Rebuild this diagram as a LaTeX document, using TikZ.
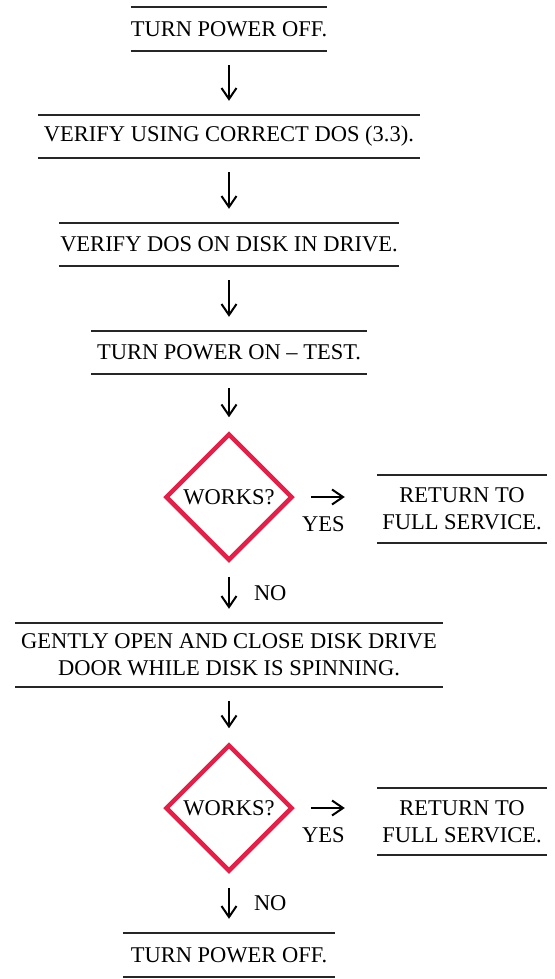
\documentclass[tikz,border=0pt]{standalone}
\usepackage{fontspec}
\setmainfont{Liberation Serif}
\usetikzlibrary{shapes.geometric,arrows.meta}
\definecolor{testred}{RGB}{224,34,74}

\begin{document}
\begin{tikzpicture}[
  x=1pt, y=-1pt,
  stepbox/.style={
    rectangle, inner sep=0pt, align=center,
    font=\fontsize{22.5}{27}\selectfont
  },
  rule/.style={line width=1.6pt, draw=black!85},
  test/.style={
    diamond, draw=testred, line width=4.5pt, inner sep=0pt,
    minimum width=127pt, minimum height=127pt,
    font=\fontsize{22.5}{27}\selectfont
  },
  arr/.style={-{Straight Barb[length=11pt,width=15pt]}, line width=2pt,
    shorten <=14pt, shorten >=14pt},
  lbl/.style={font=\fontsize{22.5}{27}\selectfont, inner sep=0pt},
]
\useasboundingbox (0,0) rectangle (554,979);

\def\cx{229}

\node[stepbox, minimum width=190pt, minimum height=44pt] (off)  at (\cx, 29)
  {TURN POWER OFF.};
\node[stepbox, minimum width=382pt, minimum height=43pt] (dos)  at (\cx, 136.5)
  {VERIFY USING CORRECT DOS (3.3).};
\node[stepbox, minimum width=340pt, minimum height=43pt] (disk) at (\cx, 244.5)
  {VERIFY DOS ON DISK IN DRIVE.};
\node[stepbox, minimum width=275pt, minimum height=43pt] (on)   at (\cx, 352.5)
  {TURN POWER ON – TEST.};
\node[test] (works1) at (\cx, 497) {WORKS?};
\node[stepbox, minimum width=170pt, minimum height=68pt] (ret1) at (462, 509)
  {RETURN TO\\FULL SERVICE.};
\node[stepbox, minimum width=427pt, minimum height=64pt] (door) at (\cx, 655)
  {GENTLY OPEN AND CLOSE DISK DRIVE\\DOOR WHILE DISK IS SPINNING.};
\node[test] (works2) at (\cx, 808) {WORKS?};
\node[stepbox, minimum width=170pt, minimum height=67pt] (ret2) at (462, 821.5)
  {RETURN TO\\FULL SERVICE.};
\node[stepbox, minimum width=212pt, minimum height=44pt] (off2) at (\cx, 955)
  {TURN POWER OFF.};

\foreach \n in {off,dos,disk,on,ret1,door,ret2,off2}
  \draw[rule] (\n.north west) -- (\n.north east)
              (\n.south west) -- (\n.south east);

\draw[arr] (off)  -- (dos);
\draw[arr] (dos)  -- (disk);
\draw[arr] (disk) -- (on);
\draw[arr] (on)   -- (works1);
\draw[arr] (works1) -- node[lbl, right=24pt] {NO} (door);
\draw[arr] (door) -- (works2);
\draw[arr] (works2) -- node[lbl, right=24pt] {NO} (off2);
\draw[arr, shorten <=16pt, shorten >=32pt] (works1.east)
  -- node[lbl, pos=0.35, yshift=-27pt] {YES} (works1.east -| ret1.west);
\draw[arr, shorten <=16pt, shorten >=32pt] (works2.east)
  -- node[lbl, pos=0.35, yshift=-27pt] {YES} (works2.east -| ret2.west);

\end{tikzpicture}
\end{document}
